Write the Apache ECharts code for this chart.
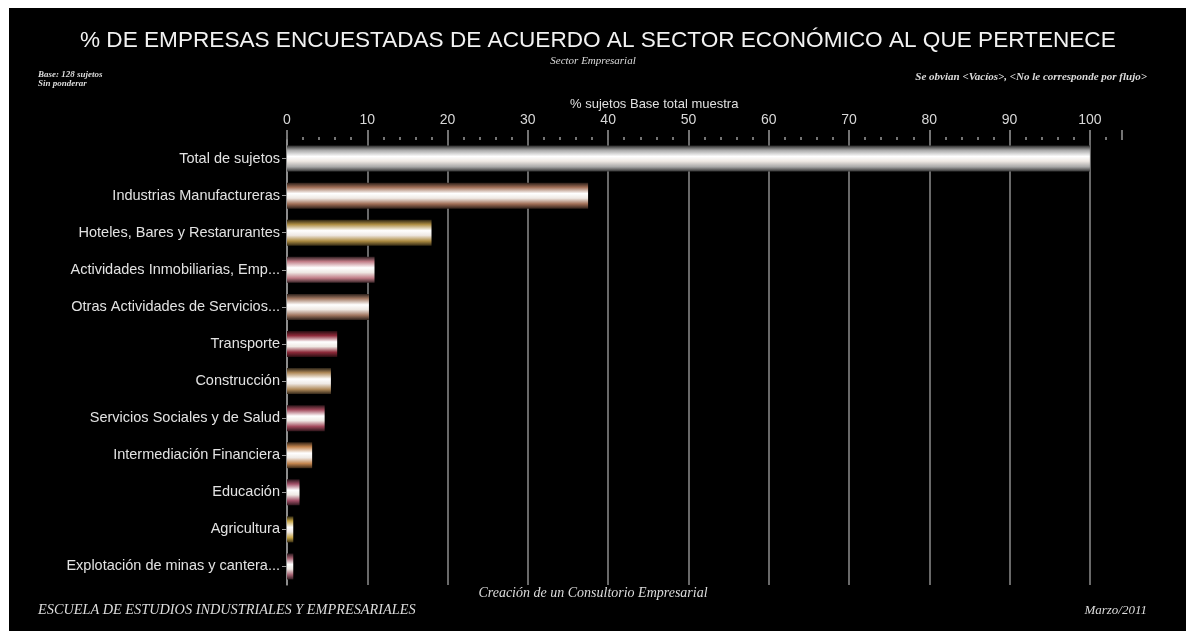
<!DOCTYPE html>
<html>
<head>
<meta charset="utf-8">
<script src="https://cdn.jsdelivr.net/npm/echarts@6/dist/echarts.min.js"></script>
<style>
  html, body { margin: 0; padding: 0; background: #ffffff; width: 1186px; height: 631px; overflow: hidden; }
  #frame { position: absolute; left: 9px; top: 8px; right: 0; bottom: 0; background: #000000; }
  #chart { position: absolute; left: 0; top: 0; width: 1186px; height: 631px; }
</style>
</head>
<body>
<div id="frame"></div>
<div id="chart"></div>
<script>
// Sectors surveyed (base: 128 companies), share of the total sample in %
const categories = [
  'Total de sujetos',
  'Industrias Manufactureras',
  'Hoteles, Bares y Restarurantes',
  'Actividades Inmobiliarias, Emp...',
  'Otras Actividades de Servicios...',
  'Transporte',
  'Construcción',
  'Servicios Sociales y de Salud',
  'Intermediación Financiera',
  'Educación',
  'Agricultura',
  'Explotación de minas y cantera...'
];
const percentages = [100, 37.5, 18.0, 10.9, 10.2, 6.25, 5.47, 4.69, 3.13, 1.56, 0.78, 0.78];
const tickLabels = ['0', '10', '20', '30', '40', '50', '60', '70', '80', '90', '100'];

// Mid-tone of each bar's metallic gradient
const barTones = ['#a8a8a8', '#a06e56', '#ad8c42', '#c07c86', '#a27862', '#8e2a3a',
                  '#b08a5a', '#a24a5c', '#c2844e', '#a25068', '#c4a244', '#a46070'];

function shade(hex, f) {
  const n = parseInt(hex.slice(1), 16);
  const r = Math.round(((n >> 16) & 255) * f), g = Math.round(((n >> 8) & 255) * f), b = Math.round((n & 255) * f);
  return 'rgb(' + r + ',' + g + ',' + b + ')';
}
function metal(hex) {
  return new echarts.graphic.LinearGradient(0, 0, 0, 1, [
    { offset: 0, color: shade(hex, 0.25) },
    { offset: 0.18, color: hex },
    { offset: 0.42, color: '#ffffff' },
    { offset: 0.6, color: '#efe9e4' },
    { offset: 0.82, color: hex },
    { offset: 1, color: shade(hex, 0.3) }
  ]);
}

const splitColors = tickLabels.map(() => '#8c8c8c').concat(['rgba(0,0,0,0)']);

const chart = echarts.init(document.getElementById('chart'));
const serif = '"Liberation Serif", "DejaVu Serif", serif';
const sans = '"Liberation Sans", Arial, sans-serif';

chart.setOption({
  backgroundColor: 'transparent',
  animation: false,
  grid: { left: 287, right: 64, top: 140, bottom: 46, containLabel: false },
  xAxis: {
    type: 'value',
    position: 'top',
    min: 0,
    max: 104,
    interval: 10,
    axisLine: { show: false },
    axisTick: { show: true, length: 10, lineStyle: { color: '#9a9a9a', width: 1.5 } },
    minorTick: { show: true, splitNumber: 5, length: 3, lineStyle: { color: '#9a9a9a', width: 1.5 } },
    axisLabel: {
      color: '#d8d8d8', fontFamily: sans, fontSize: 14, margin: 13,
      formatter: v => (tickLabels.indexOf(String(v)) >= 0 ? String(v) : '')
    },
    splitLine: { show: true, lineStyle: { color: splitColors, width: 1.5 } }
  },
  yAxis: {
    type: 'category',
    inverse: true,
    data: categories,
    axisLine: { show: true, lineStyle: { color: '#9a9a9a', width: 1.5 } },
    axisTick: { show: true, alignWithLabel: true, length: 5, lineStyle: { color: '#9a9a9a' } },
    axisLabel: { color: '#e2e2e2', fontFamily: sans, fontSize: 14.5, margin: 7 }
  },
  series: [{
    type: 'bar',
    barWidth: 26,
    data: percentages.map((v, i) => ({ value: v, itemStyle: { color: metal(barTones[i]) } }))
  }],
  graphic: [
    { type: 'text', left: 80, top: 29, style: {
      text: '% DE EMPRESAS ENCUESTADAS DE ACUERDO AL SECTOR ECONÓMICO AL QUE PERTENECE',
      fill: '#f2f2f2', font: '22.6px ' + sans } },
    { type: 'text', left: 'center', top: 56, style: {
      text: 'Sector Empresarial', fill: '#dcdcdc', font: 'italic 11px ' + serif } },
    { type: 'text', left: 38, top: 70, style: {
      text: 'Base: 128 sujetos\nSin ponderar', fill: '#dcdcdc', font: 'italic bold 9px ' + serif, lineHeight: 9 } },
    { type: 'text', right: 39, top: 72, style: {
      text: 'Se obvian <Vacíos>, <No le corresponde por flujo>', fill: '#dcdcdc', font: 'italic bold 11px ' + serif } },
    { type: 'text', left: 570, top: 98, style: {
      text: '% sujetos Base total muestra', fill: '#e0e0e0', font: '13px ' + sans } },
    { type: 'text', left: 'center', top: 586, style: {
      text: 'Creación de un Consultorio Empresarial', fill: '#dcdcdc', font: 'italic 14px ' + serif } },
    { type: 'text', left: 38, top: 603, style: {
      text: 'ESCUELA DE ESTUDIOS INDUSTRIALES Y EMPRESARIALES', fill: '#dcdcdc', font: 'italic 14.3px ' + serif } },
    { type: 'text', right: 39, top: 604, style: {
      text: 'Marzo/2011', fill: '#dcdcdc', font: 'italic 13px ' + serif } }
  ]
});
</script>
</body>
</html>
